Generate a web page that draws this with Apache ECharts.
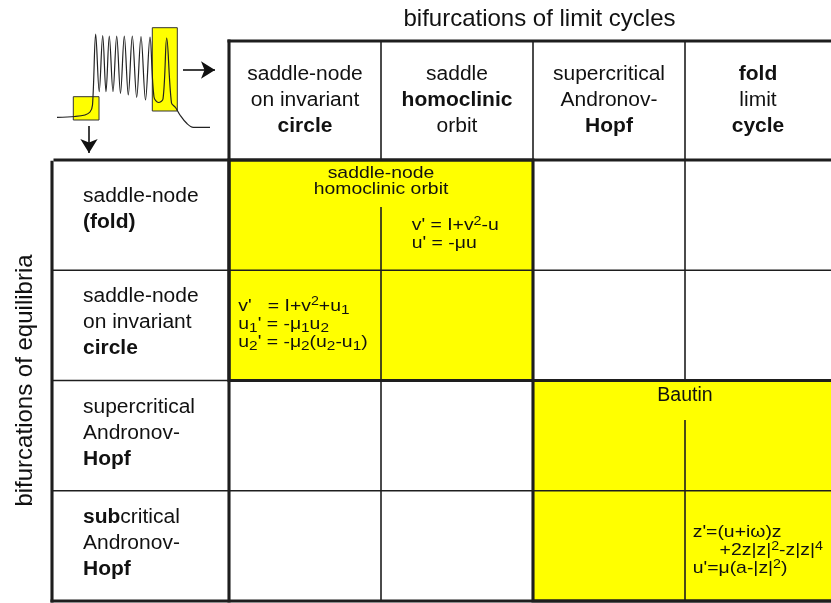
<!DOCTYPE html>
<html><head><meta charset="utf-8">
<script src="https://cdn.jsdelivr.net/npm/echarts@6/dist/echarts.min.js"></script>
<style>html,body{margin:0;padding:0;background:#fff}#c{width:831px;height:603px}</style>
</head><body><div id="c"></div>
<script>
// ---------------- data ----------------
const axisTitles = ['bifurcations of limit cycles', 'bifurcations of equilibria'];
const limitCycleBifurcations = [
  ['saddle-node', 'on invariant', '{b|circle}'],
  ['saddle', '{b|homoclinic}', 'orbit'],
  ['supercritical', 'Andronov-', '{b|Hopf}'],
  ['{b|fold}', 'limit', '{b|cycle}']
];
const equilibriumBifurcations = [
  ['saddle-node', '{b|(fold)}'],
  ['saddle-node', 'on invariant', '{b|circle}'],
  ['supercritical', 'Andronov-', '{b|Hopf}'],
  ['{b|sub}critical', 'Andronov-', '{b|Hopf}']
];
// codimension-2 blocks: [col0,row0,col1,row1]
const codim2Blocks = [[0, 0, 2, 2], [2, 2, 4, 4]];
const codim2Names = ['saddle-node\nhomoclinic orbit', 'Bautin'];
// normal forms: cell [col,row] and text lines
const normalFormCells = [[1, 0], [0, 1], [3, 3]];
const normalForms = [
  ["v' = I+v{sup|2}-u", "u' = -μu"],
  ["v'   = I+v{sup|2}+u{sub|1}", "u{sub|1}' = -μ{sub|1}u{sub|2}", "u{sub|2}' = -μ{sub|2}(u{sub|2}-u{sub|1})"],
  ["z'=(u+iω)z", "     +2z|z|{sup|2}-z|z|{sup|4}", "u'=μ(a-|z|{sup|2})"]
];
// bursting trace of the icon (time, voltage)
const traceTime = [5, 23, 33, 38, 40.5, 43.7, 47.2, 50.7, 54, 57.3, 61, 64.7, 68.5, 72.3, 76.3, 80.3, 84.7, 89, 93.5, 98, 102, 106.5, 111, 114.7, 119.5, 123.5, 128, 134.7, 141.3, 158];
const traceVoltage = [12.7, 13.5, 15, 18, 25, 96, 38.3, 94.5, 38.3, 94, 38.3, 94, 36.7, 94, 35, 94, 32.7, 93.5, 30, 93, 33, 27.5, 31, 92, 27, 22.5, 15, 6.7, 2.7, 2.7];
// highlighted windows of the trace: [t0,v0,t1,v1]
const traceWindows = [[21.3, 10, 47, 33.3], [100.3, 19, 125.3, 102.3]];
// arrows: [t0,v0,t1,v1]
const traceArrows = [[131, 60, 163, 60], [37, 4, 37, -23]];

// ---------------- layout / style ----------------
const FONT = '"Liberation Sans", Arial, Helvetica, sans-serif';
const INK = '#111';
const LINE = '#1e1e1e';
const YELLOW = '#ffff00';
const THIN = 1.6, THICK = 3.1;
const nC = limitCycleBifurcations.length, nR = equilibriumBifurcations.length;
const XMIN = -177 / 152, XMAX = 602 / 152, YMIN = -119 / 110.25, YMAX = nR;
const blockStyles = [{fs: 17, lh: 16.5, sx: 1.14, gap: 0.426}, {fs: 19.5, lh: 20, sx: 1, gap: 0.358}];
const normalFormOffsets = [[30.7, 65.6], [9.3, 36], [7.7, 41.9]];
const EQ = {fs: 17, lh: 22, sx: 1.14, step: 18};

function txt(x, y, text, o) {
  const base = {fontFamily: FONT, fontSize: o.fs, fontWeight: o.fw || 'normal', lineHeight: o.lh, fill: INK};
  const rich = {};
  const r = o.rich || {};
  for (const k in r) rich[k] = Object.assign({}, base, r[k]);
  return {
    type: 'text', x: x, y: y, scaleX: o.sx || 1, scaleY: 1, rotation: o.rot || 0, silent: true,
    style: Object.assign({}, base, {text: text, x: 0, y: 0, align: o.align || 'left', verticalAlign: o.va || 'middle', rich: rich})
  };
}
const HEAD = {fs: 20, lh: 26, sx: 1.05, rich: {b: {fontWeight: 'bold'}}};
const EQRICH = {
  sup: {fontSize: 12.5, lineHeight: 12, verticalAlign: 'top'},
  sub: {fontSize: 13.5, lineHeight: 15, verticalAlign: 'bottom'}
};

function renderGridLines(params, api) {
  const out = [];
  const seg = (x1, y1, x2, y2, w, cap) => {
    const a = api.coord([x1, y1]), b = api.coord([x2, y2]);
    out.push({type: 'line', silent: true, shape: {x1: a[0], y1: a[1], x2: b[0], y2: b[1]},
      style: {stroke: LINE, lineWidth: w, lineCap: cap || 'butt'}});
  };
  for (let c = 1; c < nC; c++) seg(c, YMIN, c, 0, THIN);
  for (let r = 1; r < nR; r++) seg(XMIN, r, XMAX, r, THIN);
  for (let c = 1; c < nC; c++) {
    for (let r = 0; r < nR; r++) {
      let y0 = r;
      codim2Blocks.forEach((b, k) => { if (c > b[0] && c < b[2] && r === b[1]) y0 = r + blockStyles[k].gap; });
      seg(c, y0, c, r + 1, THIN);
    }
  }
  seg(0, YMIN, XMAX, YMIN, THICK, 'square');
  seg(0, YMIN, 0, nR, THICK, 'square');
  seg(XMIN + 0.02, 0, XMAX, 0, THICK, 'square');
  seg(XMIN, 0.02, XMIN, nR, THICK, 'square');
  seg(XMIN, nR, XMAX, nR, THICK, 'square');
  codim2Blocks.forEach(b => {
    const a = api.coord([b[0], b[1]]), d = api.coord([b[2], b[3]]);
    out.push({type: 'rect', silent: true, shape: {x: a[0], y: a[1], width: d[0] - a[0], height: d[1] - a[1]},
      style: {fill: 'none', stroke: LINE, lineWidth: THICK}});
  });
  return {type: 'group', children: out};
}

const chart = echarts.init(document.getElementById('c'), null, {renderer: 'canvas'});
chart.setOption({
  backgroundColor: '#fff',
  animation: false,
  tooltip: {show: false},
  grid: [
    {left: 52, top: 41, right: 0, bottom: 2},
    {left: 52, top: 20, width: 170, height: 140}
  ],
  xAxis: [
    {type: 'value', gridIndex: 0, min: XMIN, max: XMAX, show: false},
    {type: 'value', gridIndex: 1, min: 0, max: 170, show: false}
  ],
  yAxis: [
    {type: 'value', gridIndex: 0, min: YMIN, max: YMAX, inverse: true, show: false},
    {type: 'value', gridIndex: 1, min: -30, max: 110, show: false}
  ],
  series: [
    { // yellow codim-2 blocks
      type: 'custom', xAxisIndex: 0, yAxisIndex: 0, z: 1, silent: true,
      data: codim2Blocks,
      renderItem: (p, api) => {
        const a = api.coord([api.value(0), api.value(1)]), d = api.coord([api.value(2), api.value(3)]);
        return {type: 'rect', shape: {x: a[0], y: a[1], width: d[0] - a[0], height: d[1] - a[1]}, style: {fill: YELLOW}};
      }
    },
    { // table rules
      type: 'custom', xAxisIndex: 0, yAxisIndex: 0, z: 2, silent: true,
      data: [[0, 0]],
      renderItem: renderGridLines
    },
    { // column headers
      type: 'custom', xAxisIndex: 0, yAxisIndex: 0, z: 3, silent: true,
      data: limitCycleBifurcations.map((_, i) => [(i + Math.min(i + 1, XMAX)) / 2, YMIN / 2]),
      renderItem: (p, api) => {
        const pt = api.coord([api.value(0), api.value(1)]);
        return txt(pt[0], pt[1], limitCycleBifurcations[p.dataIndex].join('\n'), Object.assign({align: 'center'}, HEAD));
      }
    },
    { // row headers
      type: 'custom', xAxisIndex: 0, yAxisIndex: 0, z: 3, silent: true,
      data: equilibriumBifurcations.map((_, i) => [XMIN, i + 0.5]),
      renderItem: (p, api) => {
        const lines = equilibriumBifurcations[p.dataIndex];
        const pt = api.coord([api.value(0), api.value(1)]);
        return txt(pt[0] + 31, pt[1] + (lines.length < 3 ? -5.5 : -2.5), lines.join('\n'), HEAD);
      }
    },
    { // codim-2 block names
      type: 'custom', xAxisIndex: 0, yAxisIndex: 0, z: 3, silent: true,
      data: codim2Blocks.map(b => [(b[0] + b[2]) / 2, b[1]]),
      renderItem: (p, api) => {
        const s = blockStyles[p.dataIndex];
        const pt = api.coord([api.value(0), api.value(1)]);
        return txt(pt[0], pt[1] + 5, codim2Names[p.dataIndex], {fs: s.fs, lh: s.lh, sx: s.sx, align: 'center', va: 'top'});
      }
    },
    { // normal forms
      type: 'custom', xAxisIndex: 0, yAxisIndex: 0, z: 3, silent: true,
      data: normalFormCells,
      renderItem: (p, api) => {
        const off = normalFormOffsets[p.dataIndex];
        const pt = api.coord([api.value(0), api.value(1)]);
        return {type: 'group', children: normalForms[p.dataIndex].map((line, j) =>
          txt(pt[0] + off[0], pt[1] + off[1] + j * EQ.step, line, {fs: EQ.fs, lh: EQ.lh, sx: EQ.sx, rich: EQRICH}))};
      }
    },
    { // axis titles
      type: 'custom', xAxisIndex: 0, yAxisIndex: 0, z: 3, silent: true,
      data: [[nC / 2, YMIN], [XMIN, nR / 2]],
      renderItem: (p, api) => {
        const pt = api.coord([api.value(0), api.value(1)]);
        if (p.dataIndex === 0) return txt(pt[0] + 6.5, pt[1] - 22, axisTitles[0], {fs: 24, lh: 28, align: 'center'});
        return txt(pt[0] - 27, pt[1], axisTitles[1], {fs: 24, lh: 28, align: 'center', rot: Math.PI / 2});
      }
    },
    { // icon windows
      type: 'custom', xAxisIndex: 1, yAxisIndex: 1, z: 2, silent: true,
      data: traceWindows,
      renderItem: (p, api) => {
        const a = api.coord([api.value(0), api.value(3)]), d = api.coord([api.value(2), api.value(1)]);
        return {type: 'rect', shape: {x: a[0], y: a[1], width: d[0] - a[0], height: d[1] - a[1]},
          style: {fill: YELLOW, stroke: '#333', lineWidth: 1}};
      }
    },
    { // icon trace
      type: 'line', xAxisIndex: 1, yAxisIndex: 1, z: 3, silent: true,
      data: traceTime.map((t, i) => [t, traceVoltage[i]]),
      showSymbol: false, symbol: 'none', smooth: 0.35,
      lineStyle: {color: '#222', width: 1.2},
      markLine: {
        silent: true, symbol: ['none', 'arrow'], symbolSize: [13, 14],
        label: {show: false}, emphasis: {disabled: true},
        lineStyle: {color: INK, width: 1.6, type: 'solid'},
        data: traceArrows.map(a => [{coord: [a[0], a[1]]}, {coord: [a[2], a[3]]}])
      }
    }
  ]
});
</script>
</body></html>
